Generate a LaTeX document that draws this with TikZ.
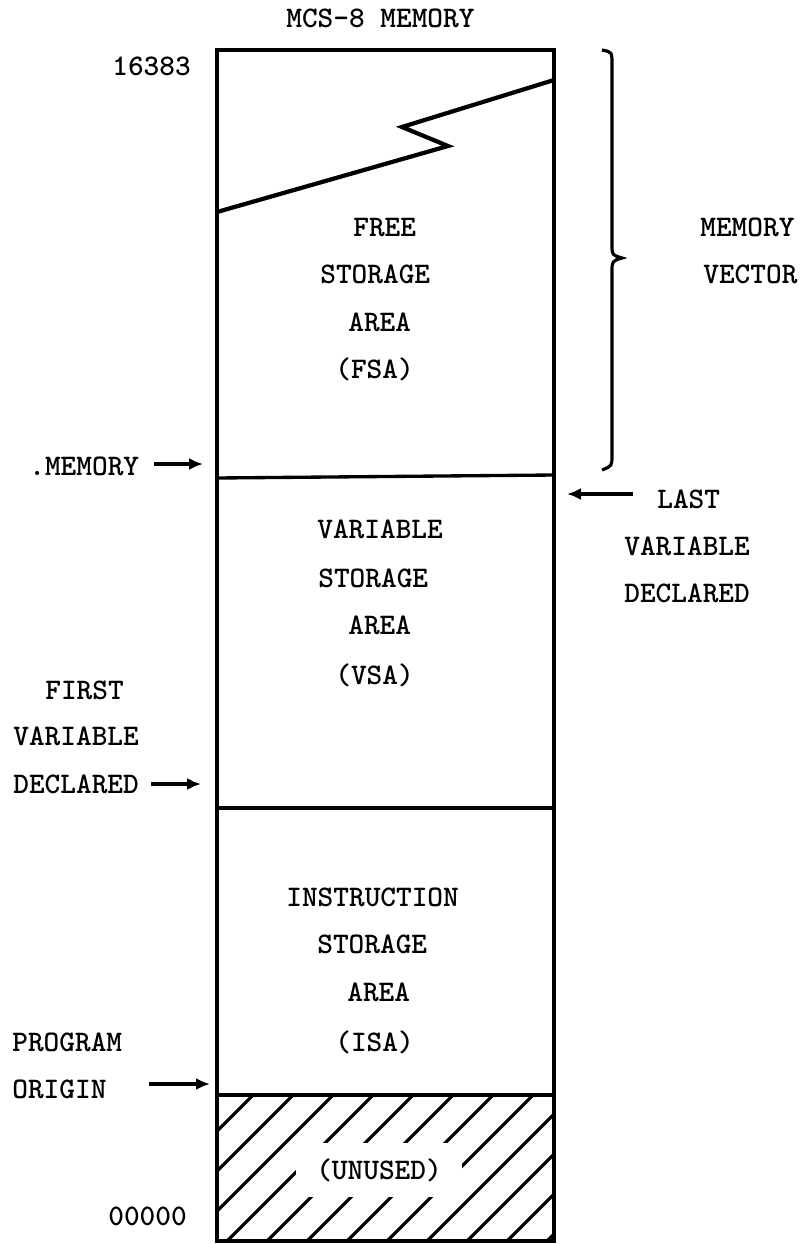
\documentclass[tikz,border=0pt]{standalone}
\usetikzlibrary{arrows.meta}
\begin{document}
\begin{tikzpicture}[x=0.02cm,y=-0.02cm,
 txt/.style={font=\ttfamily\bfseries\fontsize{17}{20}\selectfont,inner sep=0pt,anchor=base west},
 wall/.style={line width=1.9pt},
 ptr/.style={line width=2pt,-{Latex[length=0.28cm,width=0.24cm]}}]
 \useasboundingbox (0,0) rectangle (804,1244);
 \begin{scope}
 \clip (217,1095) rectangle (554,1241);
 \foreach \c in {1308,1348,...,1828} \draw[line width=1.8pt] (\c-1241,1241) -- (\c-1095,1095);
 \end{scope}
 \node[txt,anchor=center,fill=white,inner xsep=0.4cm,inner ysep=0.3cm] (unused) at (379,1170) {(UNUSED)};
 \draw[wall] (217,50) rectangle (554,1241);
 \draw[wall] (217,478) -- (554,475);
 \draw[wall] (217,808) -- (554,808);
 \draw[wall] (217,1095) -- (554,1095);
 \draw[line width=2.4pt] (217,212) -- (448,146) -- (402,127) -- (554,80);
 \draw[line width=1.8pt] (602,50) .. controls (612,52) .. (612,64) -- (612,245) .. controls (612,255) .. (622,258) .. controls (612,261) .. (612,272) -- (612,455) .. controls (612,466) .. (602,470);
 \node[txt] (title) at (286,28) {MCS-8 MEMORY};
 \node[txt] (top) at (112,75) {16383};
 \node[txt] (bottom) at (108,1225) {00000};
 \node[txt] (fsa1) at (353,236) {FREE};
 \node[txt] (fsa2) at (320,283) {STORAGE};
 \node[txt] (fsa3) at (348,331) {AREA};
 \node[txt] (fsa4) at (335,378) {(FSA)};
 \node[txt] (vsa1) at (317,538) {VARIABLE};
 \node[txt] (vsa2) at (318,587) {STORAGE};
 \node[txt] (vsa3) at (348,634) {AREA};
 \node[txt] (vsa4) at (335,684) {(VSA)};
 \node[txt] (isa1) at (286,906) {INSTRUCTION};
 \node[txt] (isa2) at (317,953) {STORAGE};
 \node[txt] (isa3) at (347,1001) {AREA};
 \node[txt] (isa4) at (335,1051) {(ISA)};
 \node[txt] (vec1) at (700,236) {MEMORY};
 \node[txt] (vec2) at (703,283) {VECTOR};
 \node[txt] (memlbl) at (29,475) {.MEMORY};
 \node[txt] (last1) at (657,508) {LAST};
 \node[txt] (last2) at (624,555) {VARIABLE};
 \node[txt] (last3) at (624,602) {DECLARED};
 \node[txt] (first1) at (45,699) {FIRST};
 \node[txt] (first2) at (13,745) {VARIABLE};
 \node[txt] (first3) at (13,793) {DECLARED};
 \node[txt] (prog1) at (12,1051) {PROGRAM};
 \node[txt] (prog2) at (12,1098) {ORIGIN};
 \coordinate (memhead) at (203,464);
 \coordinate (lasthead) at (567,494);
 \coordinate (firsthead) at (201,784);
 \coordinate (proghead) at (210,1084);
 \draw[ptr] ([xshift=0.3cm]memlbl.east |- memhead) -- (memhead);
 \draw[ptr] ([xshift=-0.48cm]last1.west |- lasthead) -- (lasthead);
 \draw[ptr] ([xshift=0.24cm]first3.east |- firsthead) -- (firsthead);
 \draw[ptr] ([xshift=0.84cm]prog2.east |- proghead) -- (proghead);
\end{tikzpicture}
\end{document}
